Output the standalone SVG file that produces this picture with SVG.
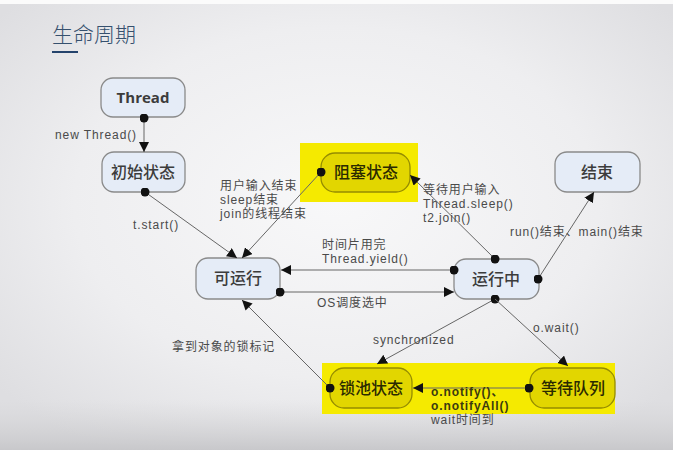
<svg xmlns="http://www.w3.org/2000/svg" width="673" height="450" viewBox="0 0 673 450">
<defs>
<radialGradient id="bg" cx="0.5" cy="0.45" r="0.65">
<stop offset="0" stop-color="#f8f8f9"/>
<stop offset="0.6" stop-color="#eeeef0"/>
<stop offset="1" stop-color="#dedee1"/>
</radialGradient>
<linearGradient id="bot" x1="0" y1="0" x2="0" y2="1">
<stop offset="0" stop-color="#d6d6d8" stop-opacity="0"/>
<stop offset="1" stop-color="#c8c8cb" stop-opacity="1"/>
</linearGradient>
<marker id="arr" viewBox="0 0 10 10" refX="10" refY="5" markerWidth="10" markerHeight="10" markerUnits="userSpaceOnUse" orient="auto">
<path d="M0,0 L10,5 L0,10 Z" fill="#111"/>
</marker>
<marker id="dot" viewBox="0 0 10 10" refX="5" refY="5" markerWidth="9" markerHeight="9" markerUnits="userSpaceOnUse">
<circle cx="5" cy="5" r="5" fill="#111"/>
</marker>
</defs>
<style>
.node rect{fill:#e5ecf7;stroke:#8a8a8a;stroke-width:1.3}
.node text{font-family:"Open Sans","Noto Sans CJK SC",sans-serif;font-size:16px;fill:#3c3c3c;text-anchor:middle;font-weight:500}
.node text.en{font-weight:700;font-size:15px}
.ynode rect.in{fill:#e2d600;stroke:#958c00;stroke-width:1.3}
.ynode rect.bg{fill:#f5ea00}
.ynode text{font-family:"Open Sans","Noto Sans CJK SC",sans-serif;font-size:16px;fill:#2a2a00;text-anchor:middle;font-weight:500}
.conn line{stroke:#666;stroke-width:1;marker-end:url(#arr)}
.conn line.d{marker-start:url(#dot)}
.lbl{font-family:"Liberation Sans","Noto Sans CJK SC",sans-serif;font-size:12px;letter-spacing:0.9px;fill:#4a4a4a}
.dk{fill:#3a3a10;font-weight:700}
</style>
<rect x="0" y="0" width="673" height="450" fill="url(#bg)"/>
<rect x="0" y="400" width="673" height="50" fill="url(#bot)"/>
<rect x="0" y="0" width="673" height="4" fill="#fbfbfb"/>
<text x="52" y="42" font-family="'Noto Sans CJK SC',sans-serif" font-size="21" font-weight="300" fill="#35506e">生命周期</text>
<rect x="52" y="51" width="26" height="2" fill="#24436c"/>

<g id="yellow-blocked" class="ynode">
<rect class="bg" x="300" y="143" width="118" height="59"/>
</g>
<g id="yellow-bottom" class="ynode">
<rect class="bg" x="322" y="363" width="293" height="51"/>
</g>

<g id="n-thread" class="node"><rect x="101" y="78" width="84" height="39" rx="12"/><text class="en" x="143" y="103">Thread</text></g>
<g id="n-init" class="node"><rect x="102" y="152" width="83" height="40" rx="12"/><text x="143" y="178">初始状态</text></g>
<g id="n-runnable" class="node"><rect x="196" y="258" width="84" height="41" rx="12"/><text x="238" y="284">可运行</text></g>
<g id="n-running" class="node"><rect x="454" y="259" width="85" height="40" rx="12"/><text x="496" y="285">运行中</text></g>
<g id="n-end" class="node"><rect x="555" y="152" width="85" height="40" rx="12"/><text x="597" y="178">结束</text></g>
<g id="n-blocked" class="ynode"><rect class="in" x="321" y="153" width="89" height="39" rx="14"/><text x="366" y="178">阻塞状态</text></g>
<g id="n-lockpool" class="ynode"><rect class="in" x="330" y="368" width="82" height="40" rx="14"/><text x="371" y="394">锁池状态</text></g>
<g id="n-waitqueue" class="ynode"><rect class="in" x="530" y="368" width="85" height="40" rx="14"/><text x="573" y="394">等待队列</text></g>

<g id="connectors" class="conn">
<line class="d" x1="144" y1="118" x2="144" y2="152"/>
<line class="d" x1="145" y1="192" x2="237" y2="258"/>
<line class="d" x1="321" y1="172" x2="242" y2="258"/>
<line class="d" x1="495" y1="259" x2="410" y2="175"/>
<line class="d" x1="454" y1="270" x2="281" y2="270"/>
<line class="d" x1="280" y1="292" x2="454" y2="292"/>
<line class="d" x1="538" y1="279" x2="594" y2="192"/>
<line class="d" x1="495" y1="299" x2="377" y2="364"/>
<line x1="495" y1="299" x2="568" y2="366"/>
<line class="d" x1="330" y1="388" x2="242" y2="300"/>
<line class="d" x1="529" y1="388" x2="413" y2="388"/>
</g>

<g id="labels">
<text class="lbl" x="137" y="139" text-anchor="end">new Thread()</text>
<text class="lbl" x="133" y="229">t.start()</text>
<text class="lbl" x="220" y="190"><tspan x="220" y="190">用户输入结束</tspan><tspan x="220" y="204">sleep结束</tspan><tspan x="220" y="218">join的线程结束</tspan></text>
<text class="lbl" x="423" y="194"><tspan x="423" y="194">等待用户输入</tspan><tspan x="423" y="208">Thread.sleep()</tspan><tspan x="423" y="222">t2.join()</tspan></text>
<text class="lbl" x="322" y="249"><tspan x="322" y="249">时间片用完</tspan><tspan x="322" y="263">Thread.yield()</tspan></text>
<text class="lbl" x="317" y="307">OS调度选中</text>
<text class="lbl" x="510" y="236">run()结束、main()结束</text>
<text class="lbl" x="373" y="344">synchronized</text>
<text class="lbl" x="533" y="332">o.wait()</text>
<text class="lbl" x="172" y="351">拿到对象的锁标记</text>
<text class="lbl" x="431" y="396"><tspan class="dk" x="431" y="396">o.notify()、</tspan><tspan class="dk" x="431" y="410">o.notifyAll()</tspan><tspan x="431" y="424">wait时间到</tspan></text>
</g>
</svg>
